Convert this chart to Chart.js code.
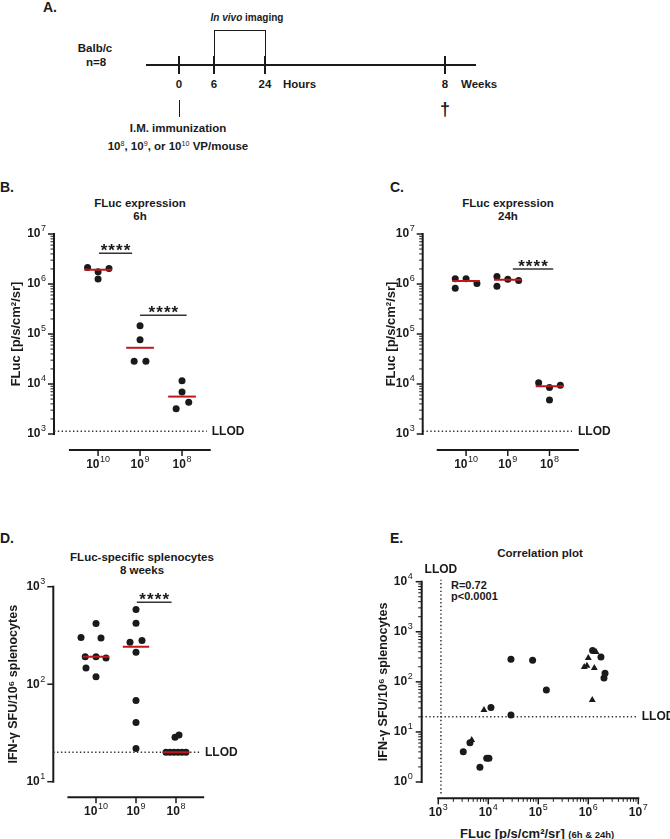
<!DOCTYPE html>
<html>
<head>
<meta charset="utf-8">
<script src="https://cdn.jsdelivr.net/npm/chart.js@4/dist/chart.umd.min.js"></script>
<style>
  body { margin: 0; background: #fff; }
  #fig { position: relative; width: 670px; height: 839px; overflow: hidden;
         font-family: "Liberation Sans", Arial, sans-serif; font-weight: bold; color: #1a1a1a; }
  .t { position: absolute; white-space: nowrap; line-height: 1; }
  .ctr { transform: translate(-50%, -50%); text-align: center; }
  .lm { transform: translateY(-50%); }
  .c { position: absolute; }
  .ln { position: absolute; background: #1a1a1a; }
  sup { font-size: .62em; line-height: 0; vertical-align: .55em; font-weight: normal; }
  .ttl { position: absolute; width: 220px; text-align: center; font-size: 11.5px; line-height: 13px; }
</style>
</head>
<body>
<div id="fig">
  <!-- A: study timeline -->
  <div class="t lm" style="left:43px;top:7px;font-size:14px">A.</div>
  <div class="t ctr" style="left:247px;top:18px;font-size:10px"><i>In vivo</i> imaging</div>
  <div style="position:absolute;left:214px;top:30px;width:52px;height:27px;box-sizing:border-box;border:1px solid #1a1a1a;border-bottom:none"></div>
  <div class="t ctr" style="left:95px;top:49px;font-size:11.5px">Balb/c</div>
  <div class="t ctr" style="left:96px;top:63px;font-size:11.5px">n=8</div>
  <div class="ln" style="left:146px;top:64px;width:330px;height:2px"></div>
  <div class="ln" style="left:178px;top:56px;width:2px;height:18px"></div>
  <div class="ln" style="left:213px;top:56px;width:2px;height:18px"></div>
  <div class="ln" style="left:264px;top:56px;width:2px;height:18px"></div>
  <div class="ln" style="left:444px;top:56px;width:2px;height:18px"></div>
  <div class="t ctr" style="left:179px;top:85px;font-size:11.5px">0</div>
  <div class="t ctr" style="left:214px;top:85px;font-size:11.5px">6</div>
  <div class="t ctr" style="left:265px;top:85px;font-size:11.5px">24</div>
  <div class="t lm" style="left:283px;top:85px;font-size:11.5px">Hours</div>
  <div class="t ctr" style="left:445px;top:85px;font-size:11.5px">8</div>
  <div class="t lm" style="left:461px;top:85px;font-size:11.5px">Weeks</div>
  <div class="ln" style="left:178.5px;top:100px;width:1px;height:17px"></div>
  <div class="t ctr" style="left:445px;top:109px;font-size:18px">†</div>
  <div class="t ctr" style="left:178px;top:129px;font-size:11.5px">I.M. immunization</div>
  <div class="t ctr" style="left:178px;top:147px;font-size:11.5px">10<sup>8</sup>, 10<sup>9</sup>, or 10<sup>10</sup> VP/mouse</div>

  <!-- panel letters and titles -->
  <div class="t lm" style="left:0;top:187px;font-size:14px">B.</div>
  <div class="t lm" style="left:390px;top:187px;font-size:14px">C.</div>
  <div class="t lm" style="left:0;top:538px;font-size:14px">D.</div>
  <div class="t lm" style="left:390px;top:538px;font-size:14px">E.</div>
  <div class="ttl" style="left:30px;top:197px">FLuc expression<br>6h</div>
  <div class="ttl" style="left:398px;top:197px">FLuc expression<br>24h</div>
  <div class="ttl" style="left:32px;top:551px">FLuc-specific splenocytes<br>8 weeks</div>
  <div class="ttl" style="left:430px;top:547px">Correlation plot</div>
  <div class="t lm" style="left:451px;top:585px;font-size:11px" id="statR"></div>
  <div class="t lm" style="left:451px;top:596px;font-size:11px" id="statP"></div>
  <div class="t lm" style="left:460px;top:833px;font-size:13px">FLuc [p/s/cm²/sr] <span style="font-size:9.5px">(6h &amp; 24h)</span></div>

  <canvas id="chartB" class="c" width="330" height="260" style="left:0;top:225px"></canvas>
  <canvas id="chartC" class="c" width="340" height="260" style="left:330px;top:225px"></canvas>
  <canvas id="chartD" class="c" width="330" height="264" style="left:0;top:575px"></canvas>
  <canvas id="chartE" class="c" width="340" height="279" style="left:330px;top:560px"></canvas>
</div>

<script>
// ---- data ----
const doseLevels = [1e10, 1e9, 1e8]; // VP/mouse, x categories of B, C, D

// B: FLuc 6 h [p/s/cm²/sr], one array per dose
const flux6hDose10 = [2.15e6, 1.76e6, 2.05e6, 1.26e6];
const flux6hDose9 = [1.47e5, 7.7e4, 2.86e4, 2.86e4];
const flux6hDose8 = [1.16e4, 6.9e3, 4.3e3, 3.2e3];
const flux6hMedians = [1.93e6, 5.3e4, 5.6e3];

// C: FLuc 24 h
const flux24hDose10 = [1.28e6, 1.28e6, 8.2e5, 1.02e6];
const flux24hDose9 = [1.42e6, 9.0e5, 1.24e6, 1.18e6];
const flux24hDose8 = [1.06e4, 8.5e3, 9.4e3, 4.8e3];
const flux24hMedians = [1.15e6, 1.21e6, 9.0e3];

// D: IFN-g SFU / 10^6 splenocytes at 8 weeks
const sfuDose10 = [419, 301, 297, 191, 191, 186, 147, 119];
const sfuDose9 = [583, 423, 270, 281, 213, 68, 40.5, 21.9];
const sfuDose8 = [28.5, 30.1, 20, 20, 20, 20, 20, 20];
const sfuMedians = [191, 242, 20];

const fluxLLOD = 1.13e3;
const sfuLLOD = 20;

// E: correlation, circles = 6 h, triangles = 24 h
const corr6hFlux = [3.16e3, 4.3e3, 6.8e3, 9.3e3, 1.03e4, 1.13e4, 2.84e4, 2.84e4, 7.7e4, 1.45e5, 1.22e6, 1.79e6, 2.16e6, 2.06e6];
const corr6hSfu = [4.0, 6.1, 1.97, 2.98, 2.98, 30.6, 284, 21.9, 271, 69, 423, 312, 149, 119];
const corr24hFlux = [4.66e3, 8.2e3, 8.3e5, 9.4e5, 1.0e6, 1.32e6, 1.43e6, 1.2e6];
const corr24hSfu = [6.9, 27.5, 197, 209, 298, 188, 393, 43.6];
const corrStats = ['R=0.72', 'p<0.0001'];

// ---- layout: horizontal scatter of dots inside a group (group units) ----
const spreadB = [[-0.25, 0, 0.26, 0], [0, 0, -0.14, 0.14], [0, 0, 0.16, -0.14]];
const spreadC = [[-0.26, 0, -0.26, 0.26], [-0.26, -0.26, 0, 0.26], [-0.26, 0, 0.26, 0]];
const spreadD = [
  [0, -0.375, 0.125, -0.27, 0, 0.25, -0.25, 0],
  [0, 0, -0.15, 0.15, 0, 0, 0, 0],
  [-0.025, 0.075, -0.25, -0.15, -0.05, 0.05, 0.15, 0.25],
];

const INK = '#1a1a1a';
const RED = '#c0161c';
const FONT = '"Liberation Sans", Arial, sans-serif';

document.getElementById('statR').textContent = corrStats[0];
document.getElementById('statP').textContent = corrStats[1];

const decades = (lo, hi) => {
  const out = [];
  for (let e = Math.ceil(Math.log10(lo) - 1e-9); Math.pow(10, e) <= hi * 1.0001; e++) out.push(Math.pow(10, e));
  return out;
};

const minors = (lo, hi) => {
  const out = [];
  for (let e = Math.floor(Math.log10(lo)); e <= Math.ceil(Math.log10(hi)); e++) {
    for (let m = 2; m <= 9; m++) {
      const v = m * Math.pow(10, e);
      if (v >= lo && v <= hi) out.push(v);
    }
  }
  return out;
};

const stroke = (ctx, x0, y0, x1, y1) => {
  ctx.beginPath();
  ctx.moveTo(x0, y0);
  ctx.lineTo(x1, y1);
  ctx.stroke();
};

// "10" with a raised exponent, anchored right or centre at (x, y)
const drawPow = (ctx, value, x, y, align) => {
  const exp = String(Math.round(Math.log10(value)));
  const baseFont = `bold 12px ${FONT}`;
  const expFont = `9px ${FONT}`;
  ctx.font = baseFont;
  const wb = ctx.measureText('10').width;
  ctx.font = expFont;
  const we = ctx.measureText(exp).width + 0.5;
  const x0 = align === 'right' ? x - wb - we : x - (wb + we) / 2;
  ctx.textAlign = 'left';
  ctx.textBaseline = 'middle';
  ctx.font = baseFont;
  ctx.fillText('10', x0, y);
  ctx.font = expFont;
  ctx.fillText(exp, x0 + wb + 0.5, y - 5);
};

// GraphPad-style axes: offset x axis, outward ticks, log minor ticks, labels and stars
const prismAxes = {
  id: 'prismAxes',
  beforeDatasetsDraw(chart, args, o) {
    const { ctx, chartArea: a, scales: { x, y } } = chart;
    const xb = a.bottom + o.xOffset;
    ctx.save();
    ctx.strokeStyle = INK;
    ctx.fillStyle = INK;
    ctx.lineWidth = 2;
    stroke(ctx, a.left, a.top - 1, a.left, a.bottom + 1);
    stroke(ctx, x.getPixelForValue(o.xFrom) - 1, xb, x.getPixelForValue(o.xTo) + 1, xb);
    ctx.lineWidth = 1.5;
    y.ticks.forEach((t) => {
      const p = y.getPixelForValue(t.value);
      stroke(ctx, a.left - 6, p, a.left, p);
      drawPow(ctx, t.value, a.left - o.yPad, p, 'right');
    });
    x.ticks.forEach((t, i) => {
      const p = x.getPixelForValue(t.value);
      stroke(ctx, p, xb, p, xb + 6);
      drawPow(ctx, o.xLabels ? o.xLabels[i] : t.value, p, xb + 14.5, 'center');
    });
    ctx.lineWidth = 1;
    if (o.yMinor) {
      minors(y.min, y.max).forEach((v) => {
        const p = y.getPixelForValue(v);
        stroke(ctx, a.left - 3.5, p, a.left, p);
      });
    }
    if (o.xMinor) {
      minors(o.xFrom, o.xTo).forEach((v) => {
        const p = x.getPixelForValue(v);
        stroke(ctx, p, xb, p, xb + 3.5);
      });
    }
    ctx.restore();
  },
  afterDatasetsDraw(chart, args, o) {
    const { ctx, scales: { x, y } } = chart;
    ctx.save();
    ctx.fillStyle = INK;
    ctx.font = `bold 12px ${FONT}`;
    ctx.textBaseline = 'middle';
    (o.notes || []).forEach((n) => {
      ctx.textAlign = n.align || 'left';
      ctx.fillText(n.text, x.getPixelForValue(n.x) + (n.dx || 0), y.getPixelForValue(n.y) + (n.dy || 0));
    });
    ctx.font = `bold 17px ${FONT}`;
    ctx.textAlign = 'center';
    ctx.textBaseline = 'alphabetic';
    (o.stars || []).forEach((s) => {
      const cx = (x.getPixelForValue(s.from) + x.getPixelForValue(s.to)) / 2;
      const cy = y.getPixelForValue(s.at);
      for (let i = 0; i < 4; i++) ctx.fillText('*', cx + (i - 1.5) * 7.7, cy + 3);
    });
    ctx.restore();
  },
};

const pointsAt = (group, values, spread) => values.map((v, i) => ({ x: group + spread[i], y: v }));

const dots = (data, style = 'circle', radius = 3.5) => ({
  type: 'scatter', data, pointStyle: style, pointRadius: radius, pointHoverRadius: radius,
  backgroundColor: INK, borderColor: INK, borderWidth: 0, order: 1,
});

const segment = (x0, x1, y0, y1, color, width, dash = [], order = 2) => ({
  type: 'line', data: [{ x: x0, y: y0 }, { x: x1, y: y1 }], borderColor: color, borderWidth: width,
  borderDash: dash, borderCapStyle: 'butt', pointRadius: 0, pointHoverRadius: 0, fill: false, order,
});

const medianLines = (medians) => medians.map((m, i) => segment(i + 0.67, i + 1.33, m, m, RED, 2, [], 0));
const sigBar = (b) => segment(b.from, b.to, b.at, b.at, '#333', 1.5);
const dotted = (x0, x1, y0, y1) => segment(x0, x1, y0, y1, '#333', 1.5, [1.4, 2.4]);

const hiddenTicks = { display: false };

const logAxis = (min, max, o) => ({
  type: 'logarithmic', min, max,
  afterBuildTicks: (s) => { s.ticks = decades(min, max).map((value) => ({ value })); },
  afterFit: (s) => {
    if (o.width !== undefined) s.width = o.width;
    if (o.height !== undefined) s.height = o.height;
    s.paddingLeft = s.paddingRight = s.paddingTop = s.paddingBottom = 0;
  },
  grid: { display: false, drawTicks: false },
  border: { display: false },
  ticks: hiddenTicks,
  title: o.title
    ? { display: true, text: o.title, color: INK, font: { family: FONT, size: o.titleSize, weight: 'bold' }, padding: { top: o.titlePad, bottom: 0 } }
    : { display: false },
});

const doseAxis = (xMin, height) => ({
  type: 'linear', min: xMin, max: 4,
  afterBuildTicks: (s) => { s.ticks = doseLevels.map((_, i) => ({ value: i + 1 })); },
  afterFit: (s) => { s.height = height; s.paddingLeft = s.paddingRight = 0; },
  grid: { display: false, drawTicks: false },
  border: { display: false },
  ticks: hiddenTicks,
});

const makeChart = (id, datasets, padding, scales, axes) => new Chart(document.getElementById(id), {
  type: 'scatter',
  data: { datasets },
  options: {
    responsive: false,
    animation: false,
    events: [],
    layout: { padding },
    scales,
    plugins: { legend: { display: false }, tooltip: { enabled: false }, prismAxes: axes },
  },
  plugins: [prismAxes],
});

const fluxTitle = 'FLuc [p/s/cm²/sr]';
const sfuTitle = 'IFN-γ SFU/10⁶ splenocytes';

// B
const sigB = [{ from: 1.02, to: 1.81, at: 4.1e6 }, { from: 2.0, to: 3.11, at: 2.36e5 }];
makeChart('chartB', [
  ...medianLines(flux6hMedians),
  dots([...pointsAt(1, flux6hDose10, spreadB[0]), ...pointsAt(2, flux6hDose9, spreadB[1]), ...pointsAt(3, flux6hDose8, spreadB[2])]),
  ...sigB.map(sigBar),
  dotted(-0.05, 3.59, fluxLLOD, fluxLLOD),
], { left: 0, top: 9, right: 106, bottom: 0 }, {
  x: doseAxis(-0.05, 51),
  y: logAxis(1e3, 1e7, { width: 54, title: fluxTitle, titleSize: 13, titlePad: 9 }),
}, { xOffset: 16, xFrom: 0.33, xTo: 3.66, yMinor: true, yPad: 8, xLabels: doseLevels,
     notes: [{ text: 'LLOD', x: 3.59, y: fluxLLOD, dx: 5 }], stars: sigB });

// C
const sigC = [{ from: 2.12, to: 3.09, at: 2.0e6 }];
makeChart('chartC', [
  ...medianLines(flux24hMedians),
  dots([...pointsAt(1, flux24hDose10, spreadC[0]), ...pointsAt(2, flux24hDose9, spreadC[1]), ...pointsAt(3, flux24hDose8, spreadC[2])]),
  ...sigC.map(sigBar),
  dotted(-0.04, 3.54, fluxLLOD, fluxLLOD),
], { left: 38.7, top: 9, right: 78.8, bottom: 0 }, {
  x: doseAxis(-0.04, 51),
  y: logAxis(1e3, 1e7, { width: 54, title: fluxTitle, titleSize: 13, titlePad: 14.5 }),
}, { xOffset: 16, xFrom: 0.32, xTo: 3.68, yMinor: true, yPad: 8, xLabels: doseLevels,
     notes: [{ text: 'LLOD', x: 3.54, y: fluxLLOD, dx: 6 }], stars: sigC });

// D
const sigD = [{ from: 2.02, to: 2.89, at: 693 }];
makeChart('chartD', [
  ...medianLines(sfuMedians),
  dots([...pointsAt(1, sfuDose10, spreadD[0]), ...pointsAt(2, sfuDose9, spreadD[1]), ...pointsAt(3, sfuDose8, spreadD[2])]),
  ...sigD.map(sigBar),
  dotted(-0.0675, 3.6, sfuLLOD, sfuLLOD),
], { left: 0, top: 11.7, right: 114, bottom: 0 }, {
  x: doseAxis(-0.0675, 57.3),
  y: logAxis(10, 1e3, { width: 53.3, title: sfuTitle, titleSize: 12.5, titlePad: 6.5 }),
}, { xOffset: 15.6, xFrom: 0.31, xTo: 3.68, yMinor: false, yPad: 8, xLabels: doseLevels,
     notes: [{ text: 'LLOD', x: 3.6, y: sfuLLOD, dx: 5 }], stars: sigD });

// E
const llodV = dotted(fluxLLOD, fluxLLOD, 0.59, 1.1e4);
llodV.clip = false;
makeChart('chartE', [
  dots(corr6hFlux.map((v, i) => ({ x: v, y: corr6hSfu[i] }))),
  dots(corr24hFlux.map((v, i) => ({ x: v, y: corr24hSfu[i] })), 'triangle', 4),
  dotted(466, 9.3e6, sfuLLOD, sfuLLOD),
  llodV,
], { left: 37.7, top: 21.7, right: 31.7, bottom: 0 }, {
  x: logAxis(466, 1e7, { height: 57 }),
  y: logAxis(1, 1e4, { width: 54, title: sfuTitle, titleSize: 12.5, titlePad: 8 }),
}, { xOffset: 16.3, xFrom: 1e3, xTo: 1e7, yMinor: true, xMinor: true, yPad: 9,
     notes: [
       { text: 'LLOD', x: fluxLLOD, y: 1.1e4, dy: -10, align: 'center' },
       { text: 'LLOD', x: 9.3e6, y: sfuLLOD, dx: 5 },
     ] });
</script>
</body>
</html>
